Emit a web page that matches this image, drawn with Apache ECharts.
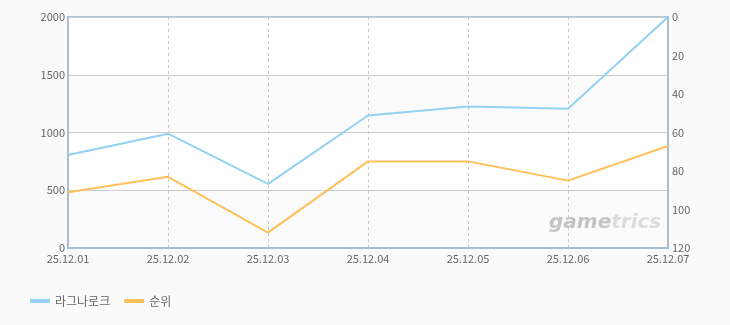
<!DOCTYPE html>
<html><head><meta charset="utf-8">
<script src="https://cdn.jsdelivr.net/npm/echarts@6/dist/echarts.min.js"></script>
<style>html,body{margin:0;padding:0;background:#fafafa}#c{width:730px;height:325px}</style>
</head><body><div id="c"></div>
<script>
const categories = ['25.12.01','25.12.02','25.12.03','25.12.04','25.12.05','25.12.06','25.12.07'];
const seriesNames = ['라그나로크','순위'];
const gameValues = [805, 990, 555, 1147, 1225, 1205, 2000];
const rankValues = [91, 83, 112, 75, 75, 85, 67];
const leftTicks = {min:0, max:2000, interval:500};
const rightTicks = {min:0, max:120, interval:20};

const chart = echarts.init(document.getElementById('c'));
const font = '"Noto Sans CJK KR", "Noto Sans", sans-serif';
chart.setOption({
  backgroundColor:'#fafafa',
  animation:false,
  textStyle:{fontFamily:font},
  grid:{left:68,right:62,top:17,bottom:77,show:true,backgroundColor:'#ffffff',borderColor:'#b4c6d8',borderWidth:2},
  legend:{
    left:25, bottom:13, itemWidth:20, itemHeight:4, itemGap:14, icon:'rect',
    textStyle:{color:'#666',fontSize:12,fontFamily:font},
    data:seriesNames
  },
  xAxis:{
    type:'category', data:categories, boundaryGap:false,
    axisLine:{lineStyle:{color:'#aabdd2',width:2}},
    axisTick:{show:false},
    axisLabel:{color:'#666',fontSize:11,margin:5,fontFamily:font},
    splitLine:{show:true,lineStyle:{color:'#c8c8c8',type:[3,3],width:1}}
  },
  yAxis:[{
    type:'value', min:leftTicks.min, max:leftTicks.max, interval:leftTicks.interval,
    axisLine:{show:true,lineStyle:{color:'#aabdd2',width:2}},
    axisTick:{show:false},
    axisLabel:{color:'#666',fontSize:11,margin:3,fontFamily:font,formatter:v=>String(v)},
    splitLine:{show:true,lineStyle:{color:'#cccccc',width:1}},
    splitArea:{show:true,areaStyle:{color:['#fbfbfb','#ffffff']}}
  },{
    type:'value', inverse:true, min:rightTicks.min, max:rightTicks.max, interval:rightTicks.interval,
    axisLine:{show:true,lineStyle:{color:'#aabdd2',width:2}},
    axisTick:{show:false},
    axisLabel:{color:'#666',fontSize:11,margin:4,fontFamily:font,formatter:v=>String(v)},
    splitLine:{show:false}
  }],
  graphic:[{
    type:'text', left:549, top:213, z:1, silent:true,
    style:{
      text:'{a|game}{b|trics}',
      rich:{
        a:{font:'italic bold 20px "DejaVu Sans", sans-serif', fill:'#c4c4c4'},
        b:{font:'italic bold 20px "DejaVu Sans", sans-serif', fill:'#dcdcdc'}
      }
    }
  }],
  series:[{
    name:seriesNames[0], type:'line', yAxisIndex:0, data:gameValues, z:3,
    showSymbol:false, lineStyle:{color:'#93d2f2',width:2}, itemStyle:{color:'#93d2f2'}
  },{
    name:seriesNames[1], type:'line', yAxisIndex:1, data:rankValues, z:3,
    showSymbol:false, lineStyle:{color:'#ffc05a',width:2}, itemStyle:{color:'#ffc05a'}
  }]
});
</script></body></html>
